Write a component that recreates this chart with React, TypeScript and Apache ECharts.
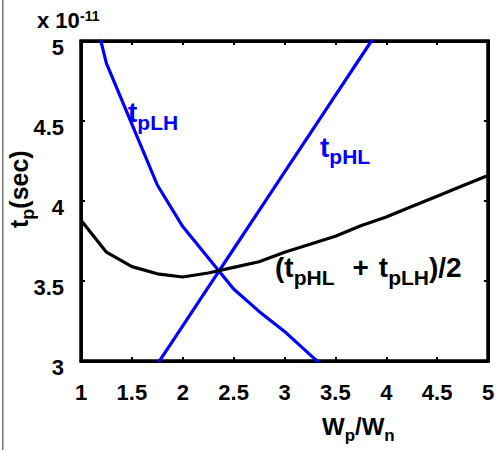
import React, { useEffect, useRef } from 'react';
import * as echarts from 'echarts';

// Wp/Wn ratio samples
const wRatio = [1, 1.25, 1.5, 1.75, 2, 2.25, 2.5, 2.75, 3, 3.25, 3.5, 3.75, 4, 4.25, 4.5, 4.75, 5];
// delays in units of 1e-11 s
const tpHL = [2.26, 2.5, 2.74, 2.98, 3.22, 3.46, 3.7, 3.94, 4.18, 4.42, 4.66, 4.9, 5.14, 5.38, 5.62, 5.86, 6.1];
const tpLH = [5.5, 4.86, 4.48, 4.1, 3.84, 3.645, 3.45, 3.31, 3.185, 3.04, 2.9, 2.79, 2.66, 2.55, 2.44, 2.33, 2.22];
const tpAvg = [3.88, 3.68, 3.59, 3.545, 3.525, 3.55, 3.585, 3.62, 3.68, 3.73, 3.78, 3.845, 3.9, 3.965, 4.03, 4.095, 4.16];

const xMin = 1;
const xMax = 5;
const xStep = 0.5;
const yMin = 3;
const yMax = 5;
const yStep = 0.5;

const FONT = "'Liberation Sans', Arial, Helvetica, sans-serif";

const GL = 81;
const GT = 41;
const GR = 11;
const GB = 89;

const mkAxisLine = () => ({ show: true, onZero: false, lineStyle: { color: '#000', width: 3 } });
const mkAxisTick = () => ({ show: true, inside: true, length: 4, lineStyle: { color: '#000', width: 2 } });

const K = 0.3465; // central-baseline offset ratio

export default function App() {
  const ref = useRef<HTMLDivElement>(null);

  useEffect(() => {
    const chart = echarts.init(ref.current!, null, { renderer: 'svg' });

    const pairs = (ys: number[]) => wRatio.map((x, i) => [x, ys[i]]);

    const ctx = document.createElement('canvas').getContext('2d');
    const measure = (s: string, size: number) => {
      if (!ctx) return s.length * size * 0.6;
      ctx.font = `bold ${size}px ${FONT}`;
      return ctx.measureText(s).width;
    };

    // a text piece positioned by its left edge and alphabetic baseline
    const piece = (s: string, x: number, baseline: number, size: number, color: string) => ({
      type: 'text', x, y: baseline - K * size,
      style: { text: s, fill: color, fontSize: size, fontWeight: 'bold', fontFamily: FONT, align: 'left', verticalAlign: 'middle' },
    });

    // main text followed by subscript
    const subLabel = (main: string, sub: string, x: number, baseline: number, mSize: number, sSize: number, drop: number, color: string) => [
      piece(main, x, baseline, mSize, color),
      piece(sub, x + measure(main, mSize), baseline + drop, sSize, color),
    ];

    // average label pieces
    const avgEls: any[] = [];
    {
      const b = 277;
      const d = 8;
      let x = 275;
      avgEls.push(piece('(t', x, b, 28, '#000'));
      x += measure('(t', 28);
      avgEls.push(piece('pHL', x, b + d, 21, '#000'));
      x += measure('pHL', 21) + 18;
      avgEls.push(piece('+', x, b, 28, '#000'));
      x += measure('+', 28) + 10;
      avgEls.push(piece('t', x, b, 28, '#000'));
      x += measure('t', 28);
      avgEls.push(piece('pLH', x, b + d, 21, '#000'));
      x += measure('pLH', 21);
      avgEls.push(piece(')/2', x, b, 28, '#000'));
    }

    // x axis title pieces
    const xTitle: any[] = [];
    {
      const b = 435;
      let x = 322;
      xTitle.push(piece('W', x, b, 24, '#000'));
      x += measure('W', 24);
      xTitle.push(piece('p', x, b + 6, 17, '#000'));
      x += measure('p', 17);
      xTitle.push(piece('/W', x, b, 24, '#000'));
      x += measure('/W', 24);
      xTitle.push(piece('n', x, b + 6, 17, '#000'));
    }

    // y axis title (rotated group, local coords)
    const yChildren: any[] = [];
    {
      let x = 0;
      yChildren.push(piece('t', x, 0, 25, '#000'));
      x += measure('t', 25);
      yChildren.push(piece('p', x, 6, 18, '#000'));
      x += measure('p', 18);
      yChildren.push(piece('(sec)', x, 0, 25, '#000'));
    }

    chart.setOption({
      animation: false,
      backgroundColor: '#fff',
      grid: { left: GL, right: GR, top: GT, bottom: GB, show: true, borderColor: '#000', borderWidth: 3 },
      xAxis: [
        {
          type: 'value', min: xMin, max: xMax, interval: xStep, position: 'bottom',
          axisLine: mkAxisLine(), axisTick: mkAxisTick(), splitLine: { show: false },
          axisLabel: { margin: 20, color: '#000', fontSize: 22, fontWeight: 'bold', fontFamily: FONT },
        },
        {
          type: 'value', min: xMin, max: xMax, interval: xStep, position: 'top',
          axisLine: mkAxisLine(), axisTick: mkAxisTick(), splitLine: { show: false },
          axisLabel: { show: true, formatter: () => '' },
        },
      ],
      yAxis: [
        {
          type: 'value', min: yMin, max: yMax, interval: yStep, position: 'left',
          axisLine: mkAxisLine(), axisTick: mkAxisTick(), splitLine: { show: false },
          axisLabel: { margin: 17, color: '#000', fontSize: 22, fontWeight: 'bold', fontFamily: FONT, verticalAlign: 'top', lineHeight: 13 },
        },
        {
          type: 'value', min: yMin, max: yMax, interval: yStep, position: 'right',
          axisLine: mkAxisLine(), axisTick: mkAxisTick(), splitLine: { show: false },
          axisLabel: { show: true, formatter: () => '' },
        },
      ],
      series: [
        { type: 'line', name: 'tpHL', data: pairs(tpHL), symbol: 'none', lineStyle: { color: '#0000ff', width: 3.2 } },
        { type: 'line', name: 'tpLH', data: pairs(tpLH), symbol: 'none', lineStyle: { color: '#0000ff', width: 3.2 } },
        { type: 'line', name: 'avg', data: pairs(tpAvg), symbol: 'none', lineStyle: { color: '#000', width: 3.2 } },
      ],
      graphic: [
        {
          type: 'rect', shape: { x: GL, y: GT, width: 499 - GL - GR, height: 450 - GT - GB },
          style: { fill: 'none', stroke: '#000', lineWidth: 3 },
        },
        piece('x 10', 37, 28, 22, '#000'),
        piece('-11', 80, 21, 14, '#000'),
        ...subLabel('t', 'pLH', 128, 122, 28, 21, 8, '#0000ff'),
        ...subLabel('t', 'pHL', 320, 157, 28, 21, 7, '#0000ff'),
        ...avgEls,
        ...xTitle,
        { type: 'group', x: 28, y: 228, rotation: Math.PI / 2, children: yChildren },
        { type: 'rect', shape: { x: 2, y: 0, width: 1.5, height: 450 }, style: { fill: '#777' } },
      ],
    });

    return () => chart.dispose();
  }, []);

  return (
    <div
      ref={ref}
      style={{ position: 'fixed', left: 0, top: 0, width: 499, height: 450, background: '#fff' }}
    />
  );
}
